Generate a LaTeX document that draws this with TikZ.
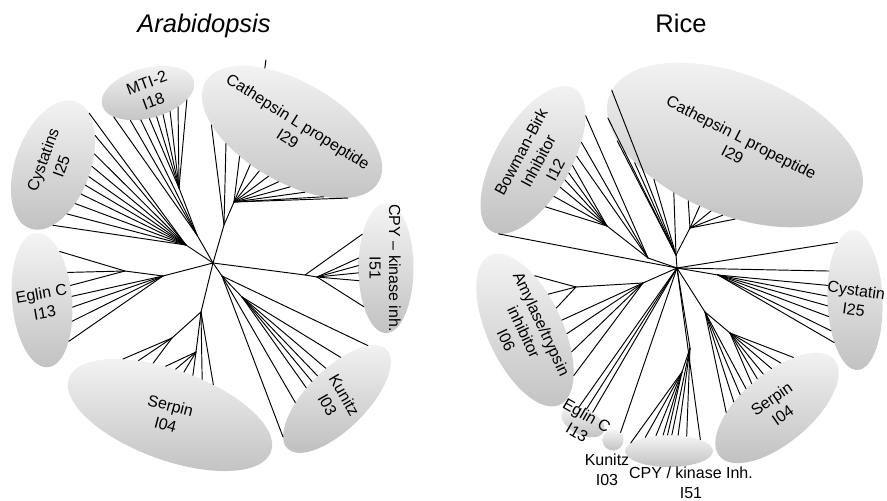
\documentclass[tikz,border=0pt]{standalone}
\usepackage{fontspec}
\setmainfont{Liberation Sans}
\usetikzlibrary{shapes.geometric}

\begin{document}
\begin{tikzpicture}[
  x=1pt, y=-1pt,
  font=\fontsize{16}{19.5}\selectfont,
  lobe/.style={ellipse, draw=none, inner sep=0pt, top color=gray!8, bottom color=gray!48},
  tag/.style={align=center, inner sep=0pt},
  heading/.style={font=\fontsize{25.5}{30}\selectfont, anchor=base},
  branch/.style={line width=0.95pt, line cap=round}
]
\useasboundingbox (0,0) rectangle (887,501);

% titles
\node[heading] (ttlA) at (204,32) {\itshape Arabidopsis};
\node[heading] (ttlB) at (681,32) {Rice};

% Arabidopsis families
\node[lobe, minimum width=95pt, minimum height=50pt, rotate=15] (mtiA) at (148,93) {};
\node[lobe, minimum width=200pt, minimum height=100pt, rotate=-30] (catA) at (292,132) {};
\node[lobe, minimum width=135pt, minimum height=75pt, rotate=70] (cysA) at (53,165) {};
\node[lobe, minimum width=135pt, minimum height=60pt, rotate=95] (eglA) at (42,300) {};
\node[lobe, minimum width=215pt, minimum height=90pt, rotate=-20] (serA) at (170,415) {};
\node[lobe, minimum width=140pt, minimum height=60pt, rotate=45] (kunA) at (337,399) {};
\node[lobe, minimum width=130pt, minimum height=55pt, rotate=90] (cpyA) at (386,268) {};

% Rice families
\node[lobe, minimum width=165pt, minimum height=75pt, rotate=60] (bbkB) at (533,160) {};
\node[lobe, minimum width=270pt, minimum height=140pt, rotate=-22] (catB) at (735,145) {};
\node[lobe, minimum width=140pt, minimum height=55pt, rotate=92] (cysB) at (855,300) {};
\node[lobe, minimum width=150pt, minimum height=70pt, rotate=40] (serB) at (777,408) {};
\node[lobe, minimum width=165pt, minimum height=75pt, rotate=-65] (amyB) at (525,330) {};
\node[lobe, minimum width=46pt, minimum height=26pt, rotate=-25] (eglB) at (583,422) {};
\node[lobe, circle, minimum size=21pt] (kunB) at (613,440) {};
\node[lobe, minimum width=88pt, minimum height=32pt] (cpyB) at (669,451) {};

% Arabidopsis tree
\coordinate (cA) at (213,263);
\coordinate (jCatA1) at (224,225);
\coordinate (jCatA2) at (234,202);
\coordinate (jMtiA1) at (197,235);
\coordinate (jMtiA2) at (179,188);
\coordinate (jCysA) at (186,245);
\coordinate (jEglA1) at (163,276);
\coordinate (jEglA2) at (125,271);
\coordinate (jSerA0) at (201,312);
\coordinate (jSerA1) at (172,338);
\coordinate (jSerA2) at (196,352);
\coordinate (jKunA1) at (222,276);
\coordinate (jKunA2) at (242,297);
\coordinate (jCpyA1) at (305,275);
\coordinate (jCpyA2) at (317,277);

\draw[branch] (cA) -- (jCatA1) -- (jCatA2);
\draw[branch] (cA) -- (jMtiA1) -- (jMtiA2);
\draw[branch] (cA) -- (jCysA);
\draw[branch] (cA) -- (jEglA1) -- (jEglA2);
\draw[branch] (cA) -- (jSerA0);
\draw[branch] (jSerA1) -- (jSerA0) -- (jSerA2);
\draw[branch] (cA) -- (jKunA1) -- (jKunA2);
\draw[branch] (cA) -- (jCpyA1) -- (jCpyA2);

\foreach \a in {205,220} \draw[branch] (jCatA1) -- (catA.\a);
\foreach \a in {235,248,260,272,285,298,312,326,340} \draw[branch] (jCatA2) -- (catA.\a);
\draw[branch] (catA.143) -- ++(1,-8);
\foreach \a in {200,222,240} \draw[branch] (jMtiA1) -- (mtiA.\a);
\foreach \a in {258,275,290,305,320,335} \draw[branch] (jMtiA2) -- (mtiA.\a);
\foreach \a in {345,325,305,288,272,258,244,230,216,200} \draw[branch] (jCysA) -- (cysA.\a);
\foreach \a in {335,312,292} \draw[branch] (jEglA2) -- (eglA.\a);
\foreach \a in {272,252,230,208} \draw[branch] (jEglA1) -- (eglA.\a);
\foreach \a in {150,140,128} \draw[branch] (jSerA1) -- (serA.\a);
\foreach \a in {115,103,92,80} \draw[branch] (jSerA2) -- (serA.\a);
\foreach \a in {68,55} \draw[branch] (jSerA0) -- (serA.\a);
\foreach \a in {170,140,15} \draw[branch] (jKunA1) -- (kunA.\a);
\foreach \a in {115,100,85,65,40} \draw[branch] (jKunA2) -- (kunA.\a);
\draw[branch] (jCpyA1) -- (cpyA.35);
\foreach \a in {70,85,100,115,150} \draw[branch] (jCpyA2) -- (cpyA.\a);

% Rice tree
\coordinate (cB) at (677,268);
\coordinate (jBbkB1) at (648,258);
\coordinate (jBbkB2) at (607,226);
\coordinate (jCatB1) at (676,255);
\coordinate (jCatB2) at (690,228);
\coordinate (jCysB) at (718,275);
\coordinate (jSerB1) at (705,312);
\coordinate (jSerB2) at (730,333);
\coordinate (jAmyB1) at (643,283);
\coordinate (jAmyB2) at (576,287);
\coordinate (jCpyB1) at (690,348);
\coordinate (jCpyB2) at (682,372);

\draw[branch] (cB) -- (jBbkB1) -- (jBbkB2);
\draw[branch] (cB) -- (jCatB1) -- (jCatB2);
\draw[branch] (cB) -- (jCysB);
\draw[branch] (cB) -- (jSerB1) -- (jSerB2);
\draw[branch] (cB) -- (jAmyB1) -- (jAmyB2);
\draw[branch] (cB) -- (jCpyB1) -- (jCpyB2);

\foreach \a in {340,320,305} \draw[branch] (jBbkB1) -- (bbkB.\a);
\foreach \a in {292,280,268,255,240,225} \draw[branch] (jBbkB2) -- (bbkB.\a);
\draw[branch] (cB) -- (bbkB.185);
\foreach \a in {178,190,200,212,225,240} \draw[branch] (jCatB1) -- (catB.\a);
\foreach \a in {252,262,272,282,292} \draw[branch] (jCatB2) -- (catB.\a);
\foreach \a in {15,40} \draw[branch] (cB) -- (cysB.\a);
\foreach \a in {60,80,100,120,140,152} \draw[branch] (jCysB) -- (cysB.\a);
\foreach \a in {145,132,120,108} \draw[branch] (jSerB1) -- (serB.\a);
\foreach \a in {96,84,72,58,45,32} \draw[branch] (jSerB2) -- (serB.\a);
\foreach \a in {145,122,100} \draw[branch] (jAmyB2) -- (amyB.\a);
\foreach \a in {80,60,40,22} \draw[branch] (jAmyB1) -- (amyB.\a);
\foreach \a in {70,100,130} \draw[branch] (cB) -- (eglB.\a);
\draw[branch] (cB) -- (kunB.north east);
\draw[branch] (cB) -- (cpyB.20);
\foreach \a in {40,60,80} \draw[branch] (jCpyB1) -- (cpyB.\a);
\foreach \a in {95,110,130,150,168} \draw[branch] (jCpyB2) -- (cpyB.\a);

% labels
\node[tag, rotate=20] (mtiAtxt) at (150,92) {MTI-2\\I18};
\node[tag, rotate=-32] (catAtxt) at (293,130) {Cathepsin L propeptide\\I29};
\node[tag, rotate=70] (cysAtxt) at (52,163) {Cystatins\\I25};
\node[tag, rotate=10] (eglAtxt) at (43,303) {Eglin C\\I13};
\node[tag, rotate=-15] (serAtxt) at (168,415) {Serpin\\I04};
\node[tag, rotate=-60] (kunAtxt) at (336,400) {Kunitz\\I03};
\node[tag, rotate=-90] (cpyAtxt) at (385,268) {CPY -- kinase inh.\\I51};

\node[tag, rotate=62] (bbkBtxt) at (538,161) {Bowman-Birk\\Inhibitor\\I12};
\node[tag, rotate=-27] (catBtxt) at (737,146) {Cathepsin L propeptide\\I29};
\node[tag, rotate=-8] (cysBtxt) at (855,300) {Cystatin\\I25};
\node[tag, rotate=35] (serBtxt) at (777,407) {Serpin\\I04};
\node[tag, rotate=-65] (amyBtxt) at (524,332) {Amylase/trypsin\\inhibitor\\I06};
\node[tag, rotate=-30] (eglBtxt) at (582,424) {Eglin C\\I13};
\node[tag] (kunBtxt) at (607,470) {Kunitz\\I03};
\node[tag] (cpyBtxt) at (691,483) {CPY / kinase Inh.\\I51};

\end{tikzpicture}
\end{document}
